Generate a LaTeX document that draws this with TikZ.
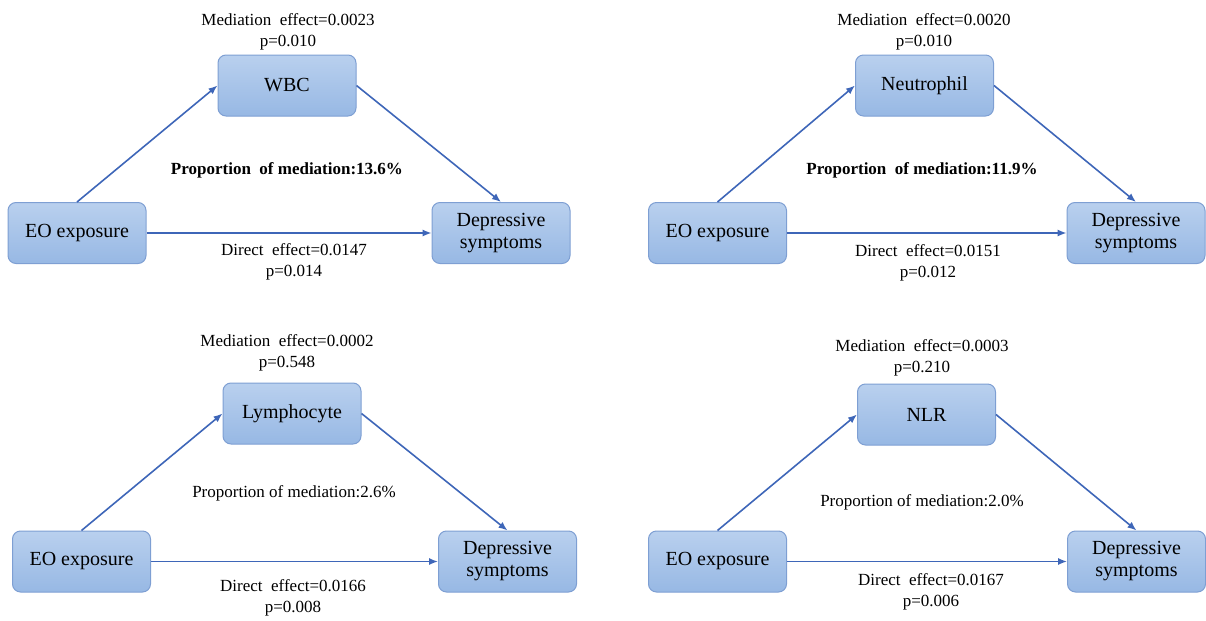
\documentclass[tikz,border=0pt]{standalone}
\usepackage{fontspec}
\setmainfont{Liberation Serif}
\usetikzlibrary{arrows.meta, shapes, positioning}
\definecolor{boxtop}{HTML}{B9D0EE}
\definecolor{boxbot}{HTML}{97B8E4}
\definecolor{boxline}{HTML}{7E9FD3}
\definecolor{arrowblue}{HTML}{3E66B8}
\tikzstyle{var} = [rectangle, rounded corners=4pt, draw=boxline, line width=0.5pt, top color=boxtop, bottom color=boxbot, minimum width=69pt, minimum height=30.5pt, align=center, inner sep=1pt, font=\fontsize{10}{11}\selectfont]
\tikzstyle{note} = [align=center, inner sep=0pt, font=\fontsize{8.5}{10.5}\selectfont]
\tikzstyle{boldnote} = [note, font=\fontsize{8.5}{10.5}\selectfont\bfseries]
\tikzstyle{arrow} = [line width=0.8pt, draw=arrowblue, -{Latex[length=4.5pt, width=3.6pt]}]

\begin{document}
\begin{tikzpicture}[x=0.5pt, y=-0.5pt]
\useasboundingbox (0,0) rectangle (1206,621);

% WBC
\node (eoA) [var] at (77,233) {EO exposure};
\node (wbc) [var] at (287,85.5) {WBC};
\node (depA) [var] at (501,233) {Depressive\\symptoms};
\node (medA) [note] at (288,31.5) {Mediation\ \ effect=0.0023\\p=0.010};
\node (propA) [boldnote] at (287,170) {Proportion\ \ of mediation:13.6\%};
\node (dirA) [note] at (294,261.5) {Direct\ \ effect=0.0147\\p=0.014};
\draw[arrow] (eoA.north) -- (wbc.west);
\draw[arrow] (wbc.east) -- (depA.north);
\draw[arrow] (eoA.east) -- (depA.west);

% Neutrophil
\node (eoB) [var] at (717.5,233) {EO exposure};
\node (neut) [var] at (924.5,85.5) {Neutrophil};
\node (depB) [var] at (1136,233) {Depressive\\symptoms};
\node (medB) [note] at (924,31.5) {Mediation\ \ effect=0.0020\\p=0.010};
\node (propB) [boldnote] at (922,170) {Proportion\ \ of mediation:11.9\%};
\node (dirB) [note] at (928,263) {Direct\ \ effect=0.0151\\p=0.012};
\draw[arrow] (eoB.north) -- (neut.west);
\draw[arrow] (neut.east) -- (depB.north);
\draw[arrow] (eoB.east) -- (depB.west);

% Lymphocyte
\node (eoC) [var] at (81.5,561.5) {EO exposure};
\node (lymph) [var] at (292,413.5) {Lymphocyte};
\node (depC) [var] at (507.5,561.5) {Depressive\\symptoms};
\node (medC) [note] at (287,353) {Mediation\ \ effect=0.0002\\p=0.548};
\node (propC) [note] at (294,493) {Proportion of mediation:2.6\%};
\node (dirC) [note] at (293,598) {Direct\ \ effect=0.0166\\p=0.008};
\draw[arrow] (eoC.north) -- (lymph.west);
\draw[arrow] (lymph.east) -- (depC.north);
\draw[arrow] (eoC.east) -- (depC.west);

% NLR
\node (eoD) [var] at (717.5,561.5) {EO exposure};
\node (nlr) [var] at (926.5,414.5) {NLR};
\node (depD) [var] at (1136.5,561.5) {Depressive\\symptoms};
\node (medD) [note] at (922,358) {Mediation\ \ effect=0.0003\\p=0.210};
\node (propD) [note] at (922,502) {Proportion of mediation:2.0\%};
\node (dirD) [note] at (931,591.5) {Direct\ \ effect=0.0167\\p=0.006};
\draw[arrow] (eoD.north) -- (nlr.west);
\draw[arrow] (nlr.east) -- (depD.north);
\draw[arrow] (eoD.east) -- (depD.west);
\end{tikzpicture}
\end{document}
